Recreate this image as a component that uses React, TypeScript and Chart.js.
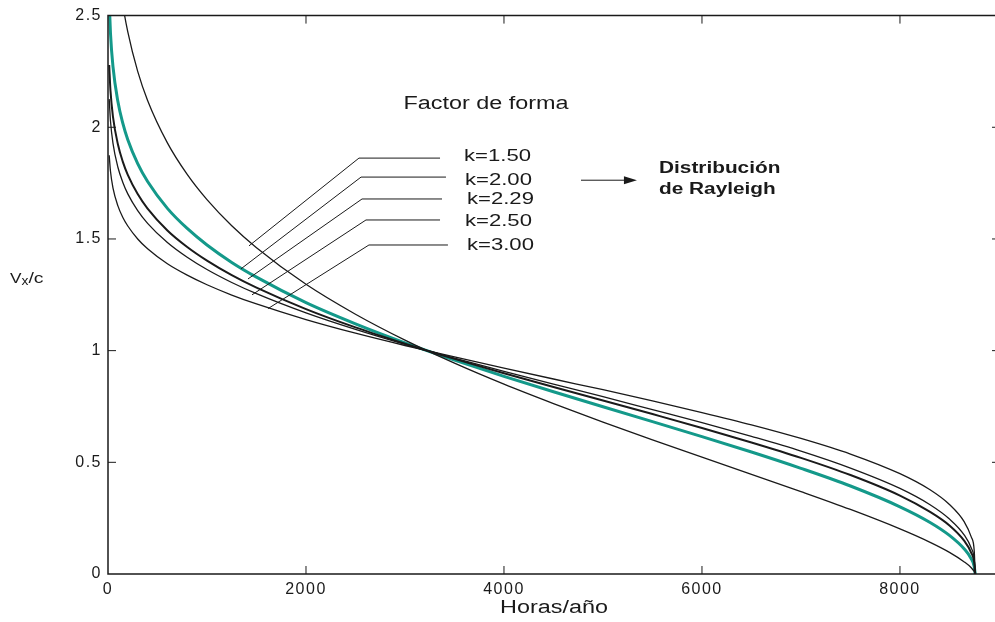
import React, { useEffect, useRef } from "react";
import { Chart, registerables } from "chart.js";

Chart.register(...registerables);

// ---- data ----
const hours = [12, 25, 50, 100, 150, 200, 300, 400, 600, 800, 1000, 1250, 1500, 2000, 2500, 3000, 3500, 4000, 4500, 5000, 5500, 6000, 6500, 7000, 7500, 8000, 8300, 8500, 8650, 8720, 8750, 8760];

const k150 = [null, null, null, 2.715, 2.548, 2.427, 2.25, 2.12, 1.93, 1.789, 1.676, 1.559, 1.461, 1.297, 1.163, 1.047, 0.944, 0.85, 0.763, 0.68, 0.6, 0.523, 0.446, 0.369, 0.289, 0.202, 0.143, 0.097, 0.054, 0.028, 0.011, 0];
const k200 = [2.568, 2.421, 2.273, 2.115, 2.017, 1.944, 1.837, 1.757, 1.637, 1.547, 1.473, 1.395, 1.329, 1.215, 1.12, 1.035, 0.958, 0.885, 0.816, 0.749, 0.682, 0.615, 0.546, 0.473, 0.394, 0.301, 0.232, 0.173, 0.112, 0.068, 0.034, 0];
const k229 = [2.279, 2.164, 2.048, 1.924, 1.845, 1.787, 1.701, 1.636, 1.538, 1.464, 1.403, 1.338, 1.282, 1.186, 1.104, 1.031, 0.963, 0.899, 0.837, 0.777, 0.716, 0.654, 0.589, 0.52, 0.443, 0.351, 0.279, 0.217, 0.148, 0.095, 0.052, 0];
const k250 = [2.126, 2.028, 1.929, 1.821, 1.753, 1.702, 1.627, 1.57, 1.484, 1.418, 1.363, 1.305, 1.255, 1.169, 1.095, 1.028, 0.966, 0.907, 0.85, 0.794, 0.736, 0.678, 0.616, 0.55, 0.474, 0.383, 0.311, 0.246, 0.174, 0.116, 0.067, 0];
const k300 = [1.875, 1.803, 1.729, 1.648, 1.596, 1.558, 1.5, 1.456, 1.389, 1.338, 1.295, 1.249, 1.209, 1.139, 1.078, 1.023, 0.972, 0.922, 0.873, 0.825, 0.775, 0.723, 0.668, 0.607, 0.537, 0.449, 0.378, 0.311, 0.233, 0.166, 0.105, 0];

const seriesLabels = ["k=1.50", "k=2.00", "k=2.29", "k=2.50", "k=3.00"];
const xTickValues = [0, 2000, 4000, 6000, 8000];
const yTickValues = [0, 0.5, 1, 1.5, 2, 2.5];

const xTitle = "Horas/año";
const annotationTitle = "Factor de forma";
const rayleighText = ["Distribución", "de Rayleigh"];

// annotation anchors in data units (hours, V/c)
const leaders = [
  { from: [1424, 1.469], elbow: [2535, 1.862], end: [3354, 1.862], label: [3596, 1.871] },
  { from: [1343, 1.366], elbow: [2556, 1.777], end: [3414, 1.777], label: [3606, 1.763] },
  { from: [1414, 1.321], elbow: [2566, 1.679], end: [3374, 1.679], label: [3626, 1.679] },
  { from: [1455, 1.25], elbow: [2606, 1.585], end: [3354, 1.585], label: [3606, 1.58] },
  { from: [1616, 1.188], elbow: [2636, 1.473], end: [3434, 1.473], label: [3626, 1.473] },
];
const titleAnchor = [3818, 2.103];
const arrowFrom = [4778, 1.763];
const arrowTo = [5343, 1.763];
const rayleighAnchor = [[5566, 1.817], [5566, 1.723]];
const xTitleAnchor = 4505;

const FONT = "'Liberation Sans', Arial, Helvetica, sans-serif";
const STRETCH = 1.3;
const INK = "#1a1a1a";
const TEAL = "#14998a";

function toPoints(vals: (number | null)[]) {
  return hours.map((h, i) => ({ x: h, y: vals[i] }));
}

function drawText(ctx: CanvasRenderingContext2D, text: string, x: number, y: number, font: string, align: string, stretch = STRETCH) {
  ctx.save();
  (ctx as any).letterSpacing = "0px";
  ctx.font = font;
  ctx.fillStyle = INK;
  ctx.textBaseline = "middle";
  ctx.textAlign = "left";
  const w = ctx.measureText(text).width * stretch;
  let left = x;
  if (align === "center") left = x - w / 2;
  else if (align === "right") left = x - w;
  ctx.translate(left, y);
  ctx.scale(stretch, 1);
  ctx.fillText(text, 0, 0);
  ctx.restore();
  return w;
}

const framePlugin = {
  id: "frame",
  beforeDraw(chart: any) {
    chart.ctx.letterSpacing = "1.5px";
  },
  afterDraw(chart: any) {
    const ctx: CanvasRenderingContext2D = chart.ctx;
    (ctx as any).letterSpacing = "0px";
    const { left, right, top, bottom } = chart.chartArea;
    const xs = chart.scales.x;
    const ys = chart.scales.y;
    const px = (t: number) => xs.getPixelForValue(t);
    const py = (v: number) => ys.getPixelForValue(v);

    // frame (right side lies just beyond the picture edge)
    ctx.save();
    ctx.strokeStyle = INK;
    ctx.lineWidth = 1.5;
    ctx.beginPath();
    ctx.moveTo(right + 2, top);
    ctx.lineTo(left, top);
    ctx.lineTo(left, bottom);
    ctx.lineTo(right + 2, bottom);
    ctx.stroke();
    // inward ticks
    ctx.lineWidth = 1;
    const tl = 8;
    ctx.beginPath();
    xs.ticks.forEach((tk: any) => {
      const x = px(tk.value);
      if (x <= left + 1 || x >= right - 1) return;
      ctx.moveTo(x, bottom);
      ctx.lineTo(x, bottom - tl);
      ctx.moveTo(x, top);
      ctx.lineTo(x, top + tl);
    });
    ys.ticks.forEach((tk: any) => {
      const y = py(tk.value);
      if (y <= top + 1 || y >= bottom - 1) return;
      ctx.moveTo(left, y);
      ctx.lineTo(left + tl, y);
      ctx.moveTo(right + 5, y);
      ctx.lineTo(right + 5 - tl, y);
    });
    ctx.stroke();

    // leader lines
    ctx.lineWidth = 1;
    ctx.strokeStyle = INK;
    leaders.forEach((l) => {
      ctx.beginPath();
      ctx.moveTo(px(l.from[0]), py(l.from[1]));
      ctx.lineTo(px(l.elbow[0]), py(l.elbow[1]));
      ctx.lineTo(px(l.end[0]), py(l.end[1]));
      ctx.stroke();
    });

    // arrow
    const ax0 = px(arrowFrom[0]);
    const ay = py(arrowFrom[1]);
    const ax1 = px(arrowTo[0]);
    ctx.beginPath();
    ctx.moveTo(ax0, ay);
    ctx.lineTo(ax1 - 10, ay);
    ctx.stroke();
    ctx.fillStyle = INK;
    ctx.beginPath();
    ctx.moveTo(ax1, ay);
    ctx.lineTo(ax1 - 13, ay - 4);
    ctx.lineTo(ax1 - 13, ay + 4);
    ctx.closePath();
    ctx.fill();
    ctx.restore();

    // texts
    drawText(ctx, annotationTitle, px(titleAnchor[0]), py(titleAnchor[1]), `18px ${FONT}`, "center");
    leaders.forEach((l, i) => {
      drawText(ctx, seriesLabels[i], px(l.label[0]), py(l.label[1]), `17px ${FONT}`, "left");
    });
    rayleighText.forEach((t, i) => {
      drawText(ctx, t, px(rayleighAnchor[i][0]), py(rayleighAnchor[i][1]), `bold 16px ${FONT}`, "left");
    });

    // axis titles
    drawText(ctx, xTitle, px(xTitleAnchor), bottom + 34, `18px ${FONT}`, "center");
    const ty = top + 263;
    let cx = 10;
    cx += drawText(ctx, "V", cx, ty, `15px ${FONT}`, "left", 1.15);
    cx += drawText(ctx, "x", cx, ty + 3, `12px ${FONT}`, "left", 1.15);
    drawText(ctx, "/c", cx, ty, `15px ${FONT}`, "left", 1.3);
  },
};

export default function App() {
  const ref = useRef<HTMLCanvasElement | null>(null);

  useEffect(() => {
    if (!ref.current) return;
    const thin = { borderColor: INK, borderWidth: 1.3, pointRadius: 0, fill: false, cubicInterpolationMode: "monotone" as const, spanGaps: false };
    const chart = new Chart(ref.current, {
      type: "line",
      data: {
        datasets: [
          { label: seriesLabels[0], data: toPoints(k150), ...thin },
          { label: seriesLabels[3], data: toPoints(k250), ...thin },
          { label: seriesLabels[4], data: toPoints(k300), ...thin },
          { label: seriesLabels[2], data: toPoints(k229), ...thin, borderWidth: 2 },
          { label: seriesLabels[1], data: toPoints(k200), ...thin, borderColor: TEAL, borderWidth: 3 },
        ] as any,
      },
      options: {
        animation: false,
        responsive: true,
        maintainAspectRatio: false,
        layout: { padding: { top: 13, right: 0, left: 0, bottom: 0 } },
        plugins: { legend: { display: false }, tooltip: { enabled: false } },
        scales: {
          x: {
            type: "linear",
            min: 0,
            max: 8960,
            grid: { display: false, drawTicks: false },
            border: { display: false },
            afterBuildTicks: (s: any) => {
              s.ticks = xTickValues.map((v) => ({ value: v }));
            },
            ticks: {
              padding: 6,
              color: INK,
              autoSkip: false,
              font: { family: FONT, size: 16 },
              maxRotation: 0,
              callback: (v: any) => String(v),
            },
            afterFit: (s: any) => {
              s.height = 48;
            },
          },
          y: {
            type: "linear",
            min: 0,
            max: 2.5,
            grid: { display: false, drawTicks: false },
            border: { display: false },
            afterBuildTicks: (s: any) => {
              s.ticks = yTickValues.map((v) => ({ value: v }));
            },
            ticks: {
              padding: 6,
              color: INK,
              autoSkip: false,
              font: { family: FONT, size: 16 },
              callback: (v: any) => String(v),
            },
            afterFit: (s: any) => {
              s.width = 108;
            },
          },
        },
      },
      plugins: [framePlugin],
    });
    return () => chart.destroy();
  }, []);

  return (
    <div style={{ position: "fixed", left: 0, top: 0, width: 995, height: 622, background: "#fff" }}>
      <canvas ref={ref} />
    </div>
  );
}
